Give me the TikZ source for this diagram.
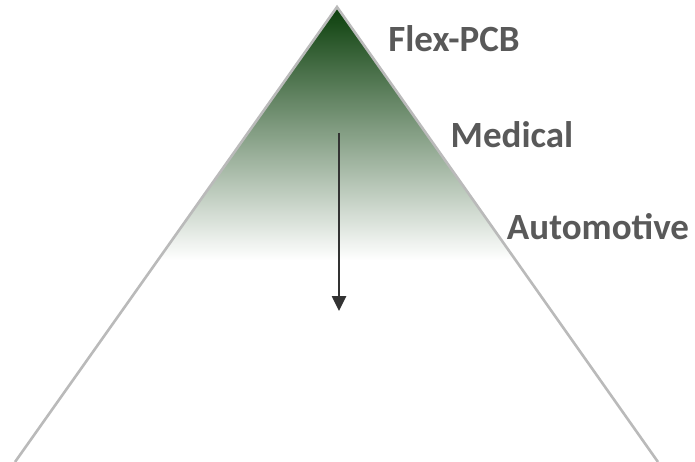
\documentclass[tikz,border=0pt]{standalone}
\usepackage{fontspec}
\setmainfont{Carlito}
\usetikzlibrary{arrows.meta,positioning}
\definecolor{labelgray}{HTML}{595959}
\definecolor{edgegray}{HTML}{BABABA}
\definecolor{topgreen}{HTML}{0B3F0B}
\definecolor{arrowgray}{HTML}{333333}

\begin{document}
\begin{tikzpicture}[x=1pt,y=-1pt,
    market/.style={font=\fontsize{37}{42}\selectfont\bfseries,text=labelgray,anchor=base,inner sep=0pt}]
      \useasboundingbox (0,0) rectangle (695,462);
      % Corners
      \coordinate (apex) at (337,7);
      \coordinate (baseL) at (15,462);
      \coordinate (baseR) at (658,462);
      % Gradient
      \begin{scope}
        \clip (apex) -- (baseL) -- (baseR) -- cycle;
        \shade[top color=topgreen,bottom color=white] (0,7) rectangle (695,260);
      \end{scope}
      % Edges
      \draw[edgegray,line width=2.6pt] (baseL) -- (apex) -- (baseR);
      % Labels
      \node[market] (flex) at (454,52) {Flex-PCB};
      \node[market] (medical) at (512,148) {Medical};
      \node[market] (auto) at (598,240) {Automotive};
      % Arrow
      \coordinate (top) at (339,133);
      \coordinate (bottom) at (339,311);
      \draw[arrowgray,line width=2.6pt,-{Triangle[width=14pt,length=15pt]}] (top) -- (bottom);
    \end{tikzpicture}
\end{document}
